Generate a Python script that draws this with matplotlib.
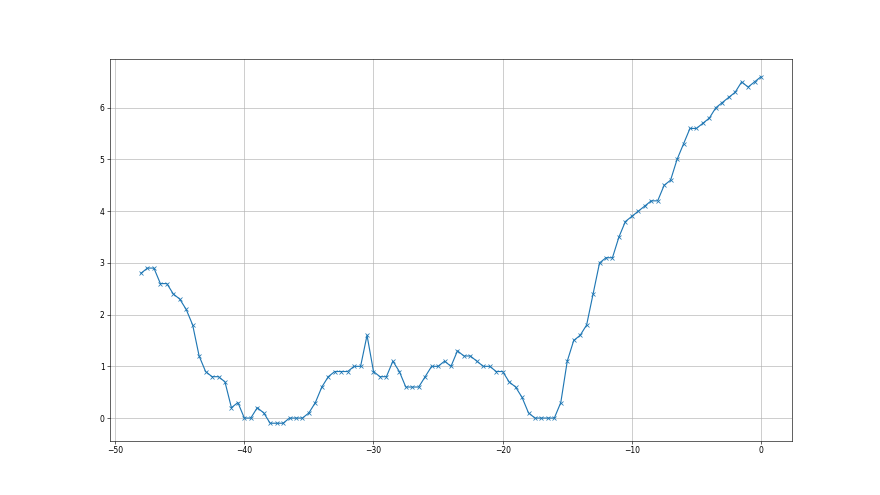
import numpy as np
import matplotlib.pyplot as plt

# positions (m), one sample every 0.5
x = np.arange(-48, 0.5, 0.5)
y = [2.8, 2.9, 2.9, 2.6, 2.6, 2.4, 2.3, 2.1, 1.8, 1.2,
     0.9, 0.8, 0.8, 0.7, 0.2, 0.3, 0.0, 0.0, 0.2, 0.1,
     -0.1, -0.1, -0.1, 0.0, 0.0, 0.0, 0.1, 0.3, 0.6, 0.8,
     0.9, 0.9, 0.9, 1.0, 1.0, 1.6, 0.9, 0.8, 0.8, 1.1,
     0.9, 0.6, 0.6, 0.6, 0.8, 1.0, 1.0, 1.1, 1.0, 1.3,
     1.2, 1.2, 1.1, 1.0, 1.0, 0.9, 0.9, 0.7, 0.6, 0.4,
     0.1, 0.0, 0.0, 0.0, 0.0, 0.3, 1.1, 1.5, 1.6, 1.8,
     2.4, 3.0, 3.1, 3.1, 3.5, 3.8, 3.9, 4.0, 4.1, 4.2,
     4.2, 4.5, 4.6, 5.0, 5.3, 5.6, 5.6, 5.7, 5.8, 6.0,
     6.1, 6.2, 6.3, 6.5, 6.4, 6.5, 6.6]


if __name__ == '__main__':
    fig = plt.figure(figsize=(16, 9), dpi=55)
    ax = plt.gca()
    ax.plot(x, y, marker='x')
    plt.grid()
    plt.savefig('out.png', dpi=55)
